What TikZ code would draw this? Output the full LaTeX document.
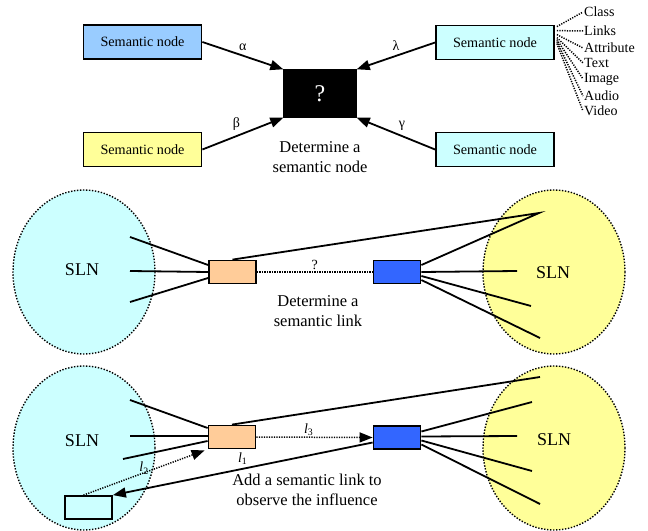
\documentclass[tikz,border=0pt]{standalone}
\usepackage{fontspec}
\setmainfont{Liberation Serif}
\usetikzlibrary{arrows.meta,shapes.geometric,calc}
\definecolor{cblue}{HTML}{99CCFF}
\definecolor{cyellow}{HTML}{FFFF99}
\definecolor{ccyan}{HTML}{CCFFFF}
\definecolor{corange}{HTML}{FFCC99}
\definecolor{cdeep}{HTML}{3366FF}
\begin{document}
\begin{tikzpicture}[x=1bp,y=-1bp,
  sbox/.style={draw=black, line width=1.8bp, minimum width=118bp, minimum height=34bp, inner sep=0pt, font=\fontsize{14.2bp}{16bp}\selectfont},
  smallbox/.style={draw=black, line width=1.8bp, minimum width=47bp, minimum height=23bp, inner sep=0pt},
  conn/.style={line width=1.8bp},
  arr/.style={line width=1.8bp, -{Triangle[length=13bp,width=10bp]}},
  dotline/.style={line width=1.5bp, dash pattern=on 1.2bp off 1.3bp},
  slnshape/.style={ellipse, draw=black, line width=1.4bp, dash pattern=on 1.4bp off 1.6bp, minimum width=142bp, minimum height=164bp, inner sep=0pt},
  lbl/.style={font=\fontsize{14bp}{16bp}\selectfont, inner sep=1bp},
  fanlbl/.style={font=\fontsize{14bp}{16bp}\selectfont, inner sep=1bp, anchor=west},
  desc/.style={align=center, font=\fontsize{16.5bp}{20.5bp}\selectfont},
  slntext/.style={font=\fontsize{18bp}{20bp}\selectfont},
]
\useasboundingbox (0,0) rectangle (648,531);

% ---------------- top part ----------------
\node[sbox, fill=cblue] (sn1) at (142.5,42) {Semantic node};
\node[sbox, fill=cyellow] (sn2) at (142.5,149.5) {Semantic node};
\node[sbox, fill=ccyan] (sn3) at (495,42.5) {Semantic node};
\node[sbox, fill=ccyan] (sn4) at (495,149.5) {Semantic node};
\node[draw=black, fill=black, minimum width=73bp, minimum height=48bp, inner sep=0pt,
      text=white, font=\fontsize{24bp}{26bp}\selectfont] (q) at (320,93.5) {?};

\draw[arr] (sn1.east) -- node[lbl, above=3bp] {α} (q.north west);
\draw[arr] (sn2.east) -- node[lbl, above left=1bp] {β} (q.south west);
\draw[arr] (sn3.west) -- node[lbl, above=3bp] {λ} (q.north east);
\draw[arr] (sn4.west) -- node[lbl, above right=1bp] {γ} (q.south east);

\node[desc] (dnode) at (320,157) {Determine a\\semantic node};

\node[fanlbl] (fclass) at (583,12) {Class};
\node[fanlbl] (flinks) at (583,31) {Links};
\node[fanlbl] (fattr) at (583,48) {Attribute};
\node[fanlbl] (ftext) at (583,63) {Text};
\node[fanlbl] (fimage) at (583,79) {Image};
\node[fanlbl] (faudio) at (583,96) {Audio};
\node[fanlbl] (fvideo) at (583,111) {Video};
\draw[dotline] ($(sn3.north east)+(2,2)$) -- (fclass.west);
\draw[dotline] ($(sn3.north east)+(2,6)$) -- (flinks.west);
\draw[dotline] ($(sn3.north east)+(2,10)$) -- (fattr.west);
\draw[dotline] ($(sn3.north east)+(2,13)$) -- (ftext.west);
\draw[dotline] ($(sn3.north east)+(2,15)$) -- (fimage.west);
\draw[dotline] ($(sn3.north east)+(2,17)$) -- (faudio.west);
\draw[dotline] ($(sn3.north east)+(2,19)$) -- (fvideo.west);

% ---------------- middle part ----------------
\node[slnshape, fill=ccyan] (e1) at (84,272) {};
\node[slnshape, fill=cyellow] (e2) at (554,272) {};
\node[slntext] (t1) at (82,270) {SLN};
\node[slntext] (t2) at (553,273) {SLN};

\node[smallbox, fill=corange] (o1) at (232.5,272) {};
\node[smallbox, fill=cdeep] (b1) at (397,272) {};

\coordinate (m1) at (130,237);
\coordinate (m2) at (130,271);
\coordinate (m3) at (130,302);
\coordinate (r1) at (539,213);
\coordinate (r2) at (517,271);
\coordinate (r3) at (531,306);
\coordinate (r4) at (540,338);

\draw[conn] (m1) -- ($(o1.west)+(0,-7)$);
\draw[conn] (m2) -- (o1.west);
\draw[conn] (m3) -- ($(o1.west)+(0,6)$);
\draw[conn] (o1.north) -- (r1) -- ($(b1.east)+(0,-7)$);
\draw[conn] (b1.east) -- (r2);
\draw[conn] ($(b1.east)+(0,4)$) -- (r3);
\draw[conn] ($(b1.east)+(0,8)$) -- (r4);
\draw[dotline] (o1.east) -- node[lbl, above=1bp] {?} (b1.west);
\node[smallbox, fill=corange] at (o1) {};
\node[smallbox, fill=cdeep] at (b1) {};

\node[desc] (dlink) at (318,311) {Determine a\\semantic link};

% ---------------- bottom part ----------------
\node[slnshape, fill=ccyan] (e3) at (84,448) {};
\node[slnshape, fill=cyellow] (e4) at (554,448) {};
\node[slntext] (t3) at (82,441) {SLN};
\node[slntext] (t4) at (554,440) {SLN};

\node[smallbox, fill=corange] (o2) at (232,437) {};
\node[smallbox, fill=cdeep] (b2) at (397,437.5) {};
\node[smallbox, fill=ccyan] (s2) at (88.5,507.5) {};

\coordinate (n1) at (130,400);
\coordinate (n2) at (130,436);
\coordinate (n3) at (123,459);
\coordinate (p1) at (540,377);
\coordinate (p2) at (532,402);
\coordinate (p3) at (517,436);
\coordinate (p4) at (532,471);
\coordinate (p5) at (540,504);

\draw[conn] (n1) -- ($(o2.west)+(0,-9)$);
\draw[conn] (n2) -- ($(o2.west)+(0,-1)$);
\draw[conn] (n3) -- ($(o2.west)+(0,4)$);
\draw[conn] (o2.north) -- (p1);
\draw[conn] ($(b2.east)+(0,-6)$) -- (p2);
\draw[conn] ($(b2.east)+(0,-1)$) -- (p3);
\draw[conn] ($(b2.east)+(0,3)$) -- (p4);
\draw[conn] ($(b2.east)+(0,7)$) -- (p5);
\node[smallbox, fill=corange] at (o2) {};
\node[smallbox, fill=cdeep] at (b2) {};

\draw[dotline, -{Triangle[length=13bp,width=10bp]}] (o2.east) -- node[lbl, above=0bp, pos=0.45] {\textit{l}\textsubscript{3}} (b2.west);
\draw[arr] ($(b2.west)+(0,5)$) -- node[lbl, above=2bp, pos=0.5] {\textit{l}\textsubscript{1}} (s2.north east);
\draw[dotline, -{Triangle[length=13bp,width=10bp]}] ($(s2.north)+(-5,0)$) -- node[lbl, above=-3bp, pos=0.5] {\textit{l}\textsubscript{2}} ($(o2.south west)+(-3,1)$);

\node[desc] (dadd) at (307,490) {Add a semantic link to\\observe the influence};
\end{tikzpicture}
\end{document}
